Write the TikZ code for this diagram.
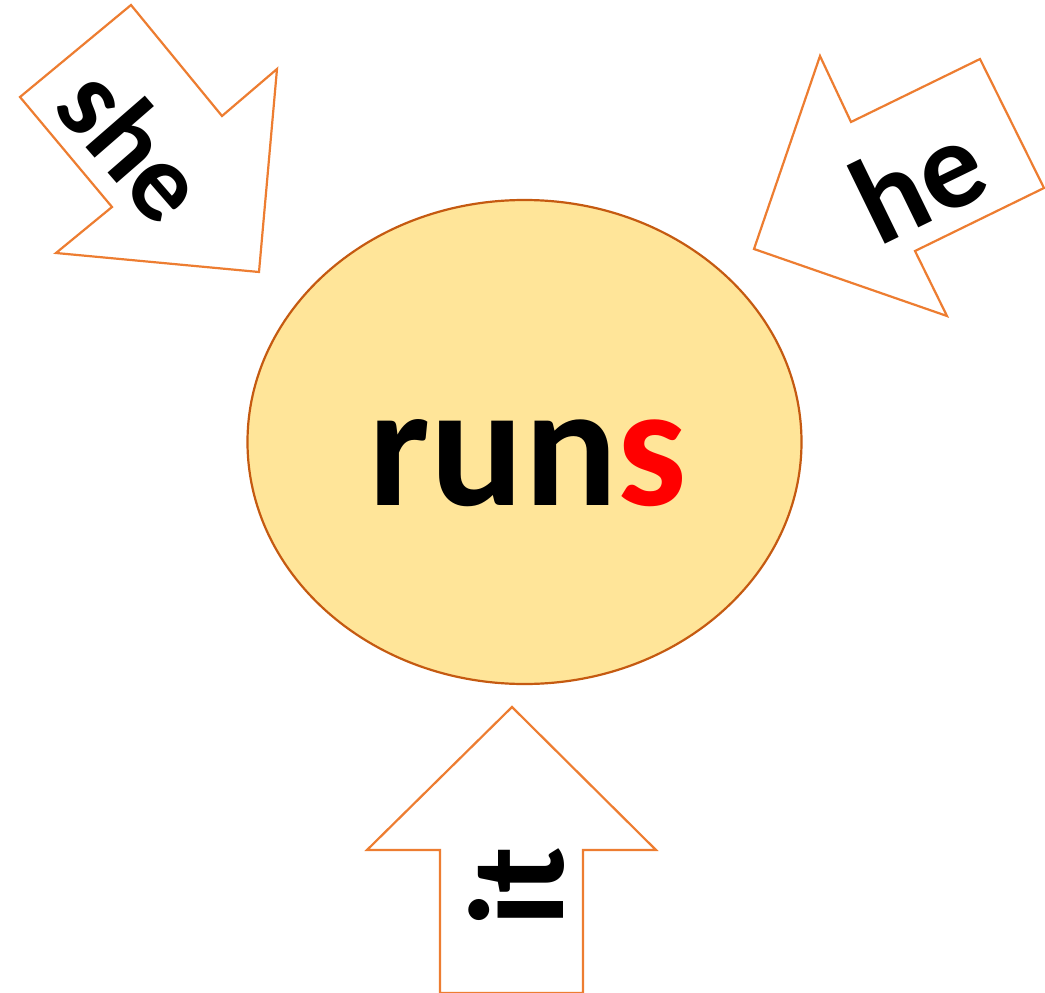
\documentclass[tikz,border=0pt]{standalone}
\usepackage{fontspec}
\setmainfont{Carlito}
\definecolor{ellfill}{HTML}{FFE599}
\definecolor{elldraw}{HTML}{C55A11}
\definecolor{arrdraw}{HTML}{ED7D31}
\definecolor{sred}{HTML}{FF0000}
\begin{document}
\begin{tikzpicture}[x=1pt,y=-1pt,
  arrowshape/.style={draw=arrdraw, line width=2.2pt, fill=white, line join=miter},
  word/.style={inner sep=0pt, font=\bfseries\fontsize{#1}{#1}\selectfont}]
\useasboundingbox (0,0) rectangle (1045,993);
% central ellipse
\draw[fill=ellfill, draw=elldraw, line width=2.2pt] (524.5,442) ellipse [x radius=277, y radius=242];
\node[word=174, anchor=base] (runs) at (528,505) {run\textcolor{sred}{s}};
% she arrow
\draw[arrowshape] (20,97) -- (131,5) -- (222,116) -- (277,69) -- (259,272) -- (56,253) -- (112,207) -- cycle;
\node[word=112, rotate=-49] (she) at (134,144) {she};
% he arrow
\draw[arrowshape] (820,56) -- (851,122) -- (980,59) -- (1044,188) -- (915,251) -- (947,316) -- (754,249) -- cycle;
\node[word=124, rotate=26] (he) at (918,181) {he};
% it arrow
\draw[arrowshape] (512,707) -- (656,850) -- (583,850) -- (583,993) -- (440,993) -- (440,850) -- (367,850) -- cycle;
\node[word=135, rotate=90] (it) at (517,887) {it};
\end{tikzpicture}
\end{document}
